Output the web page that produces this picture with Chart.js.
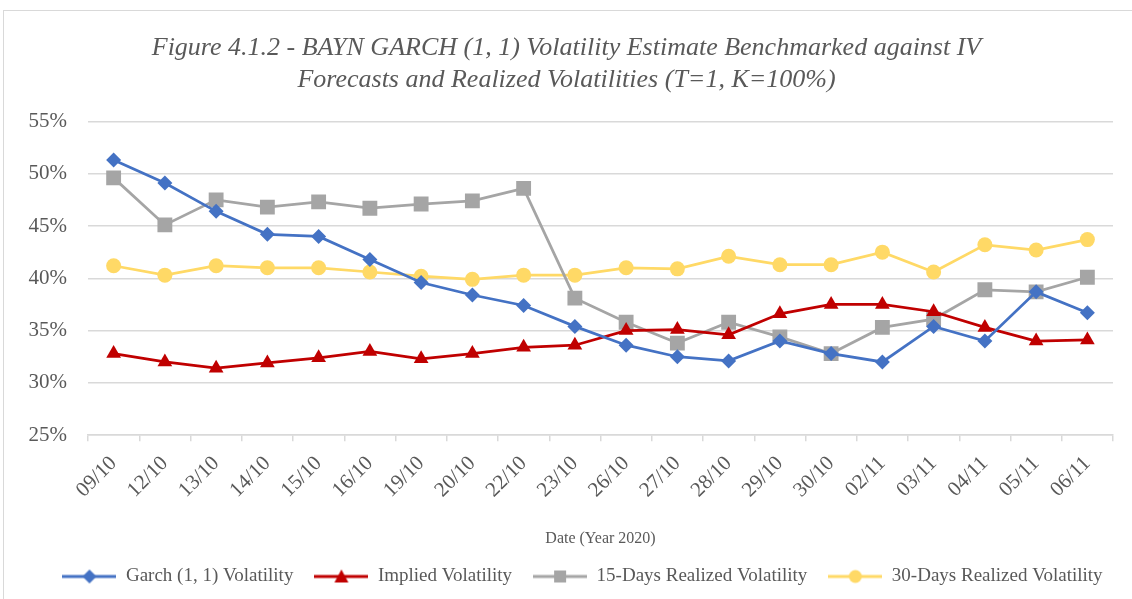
<!DOCTYPE html>
<html>
<head>
<meta charset="utf-8">
<script src="https://cdn.jsdelivr.net/npm/chart.js@4/dist/chart.umd.min.js"></script>
<style>
html, body { margin: 0; padding: 0; background: #fff; }
#frame { position: absolute; left: 3px; top: 10px; width: 1200px; height: 700px; border: 1px solid #d9d9d9; }
#c { position: absolute; left: 0; top: 0; }
</style>
</head>
<body>
<div id="frame"></div>
<canvas id="c" width="1132" height="599"></canvas>
<script>
var dates = ['09/10','12/10','13/10','14/10','15/10','16/10','19/10','20/10','22/10','23/10',
             '26/10','27/10','28/10','29/10','30/10','02/11','03/11','04/11','05/11','06/11'];

// values in %
var garch    = [51.3, 49.1, 46.4, 44.2, 44.0, 41.8, 39.6, 38.4, 37.4, 35.4,
                33.6, 32.5, 32.1, 34.0, 32.8, 32.0, 35.4, 34.0, 38.7, 36.7];
var implied  = [32.8, 32.0, 31.4, 31.9, 32.4, 33.0, 32.3, 32.8, 33.4, 33.6,
                35.0, 35.1, 34.6, 36.6, 37.5, 37.5, 36.8, 35.3, 34.0, 34.1];
var real15   = [49.6, 45.1, 47.5, 46.8, 47.3, 46.7, 47.1, 47.4, 48.6, 38.1,
                35.8, 33.8, 35.8, 34.4, 32.8, 35.3, 36.1, 38.9, 38.7, 40.1];
var real30   = [41.2, 40.3, 41.2, 41.0, 41.0, 40.6, 40.2, 39.9, 40.3, 40.3,
                41.0, 40.9, 42.1, 41.3, 41.3, 42.5, 40.6, 43.2, 42.7, 43.7];

var seriesNames = ['Garch (1, 1) Volatility', 'Implied Volatility', '15-Days Realized Volatility', '30-Days Realized Volatility'];
var colors = ['#4472C4', '#C00000', '#A5A5A5', '#FFD966'];

var font = 'Liberation Serif, Times New Roman, serif';

// small legend icon: line with the marker in the middle
function legendIcon(color, shape) {
    var c = document.createElement('canvas');
    c.width = 54; c.height = 18;
    var g = c.getContext('2d');
    g.strokeStyle = color; g.fillStyle = color; g.lineWidth = 3;
    g.beginPath(); g.moveTo(0, 9); g.lineTo(54, 9); g.stroke();
    g.beginPath();
    if (shape == 'diamond') {
        g.moveTo(27, 2); g.lineTo(34, 9); g.lineTo(27, 16); g.lineTo(20, 9);
    } else if (shape == 'triangle') {
        g.moveTo(27, 2); g.lineTo(34, 15); g.lineTo(20, 15);
    } else if (shape == 'square') {
        g.rect(21, 3, 12, 12);
    } else {
        g.arc(27, 9, 6.5, 0, Math.PI * 2);
    }
    g.closePath(); g.fill();
    return c;
}
var icons = [legendIcon(colors[0], 'diamond'), legendIcon(colors[1], 'triangle'),
             legendIcon(colors[2], 'square'), legendIcon(colors[3], 'circle')];

function ds(i, data, style, r) {
    return {
        label: seriesNames[i],
        data: data,
        borderColor: colors[i],
        backgroundColor: colors[i],
        borderWidth: 2.75,
        pointStyle: style,
        pointRadius: r,
        pointBorderWidth: 0,
        tension: 0
    };
}

// the legend in the original sits a bit right of centre
var legendShift = {
    id: 'legendShift',
    afterLayout: function(chart) {
        var l = chart.legend;
        l.left += 16; l.right += 16;
        l.top -= 3; l.bottom -= 3;
    }
};

var ctx = document.getElementById('c').getContext('2d');
var chart = new Chart(ctx, {
    type: 'line',
    data: {
        labels: dates,
        datasets: [
            ds(0, garch, 'rectRot', 7.5),
            ds(1, implied, 'triangle', 8.5),
            ds(2, real15, 'rect', 10.5),
            ds(3, real30, 'circle', 7.5)
        ]
    },
    plugins: [legendShift],
    options: {
        responsive: false,
        animation: false,
        layout: { padding: { left: 20, right: 19, top: 0, bottom: 0 } },
        plugins: {
            title: {
                display: true,
                text: ['Figure 4.1.2 - BAYN GARCH (1, 1) Volatility Estimate Benchmarked against IV',
                       'Forecasts and Realized Volatilities (T=1, K=100%)'],
                color: '#595959',
                font: { family: font, size: 26, style: 'italic', weight: 'normal', lineHeight: 1.2 },
                padding: { top: 33, bottom: 26 }
            },
            legend: {
                position: 'bottom',
                labels: {
                    usePointStyle: true,
                    pointStyleWidth: 54,
                    color: '#595959',
                    font: { family: font, size: 19 },
                    padding: 21,
                    generateLabels: function(chart) {
                        var items = Chart.defaults.plugins.legend.labels.generateLabels(chart);
                        items.forEach(function(it, i) { it.pointStyle = icons[i]; });
                        return items;
                    }
                }
            },
            tooltip: { enabled: false }
        },
        scales: {
            x: {
                offset: true,
                grid: { offset: true, drawOnChartArea: false, color: '#d9d9d9', tickLength: 6, lineWidth: 1.5 },
                border: { color: '#d9d9d9', width: 1.5 },
                ticks: { color: '#595959', font: { family: font, size: 21 }, minRotation: 45, maxRotation: 45, padding: 10 },
                title: { display: true, text: 'Date (Year 2020)', color: '#595959',
                         font: { family: font, size: 16 }, padding: { top: 16, bottom: 1 } }
            },
            y: {
                min: 25, max: 55,
                ticks: { stepSize: 5, color: '#595959', font: { family: font, size: 21 }, padding: 21,
                         callback: function(v) { return v + '%'; } },
                grid: { color: '#d9d9d9', lineWidth: 1.5, drawTicks: false },
                border: { display: false },
                afterFit: function(s) { s.width = 68; }
            }
        }
    }
});
</script>
</body>
</html>
